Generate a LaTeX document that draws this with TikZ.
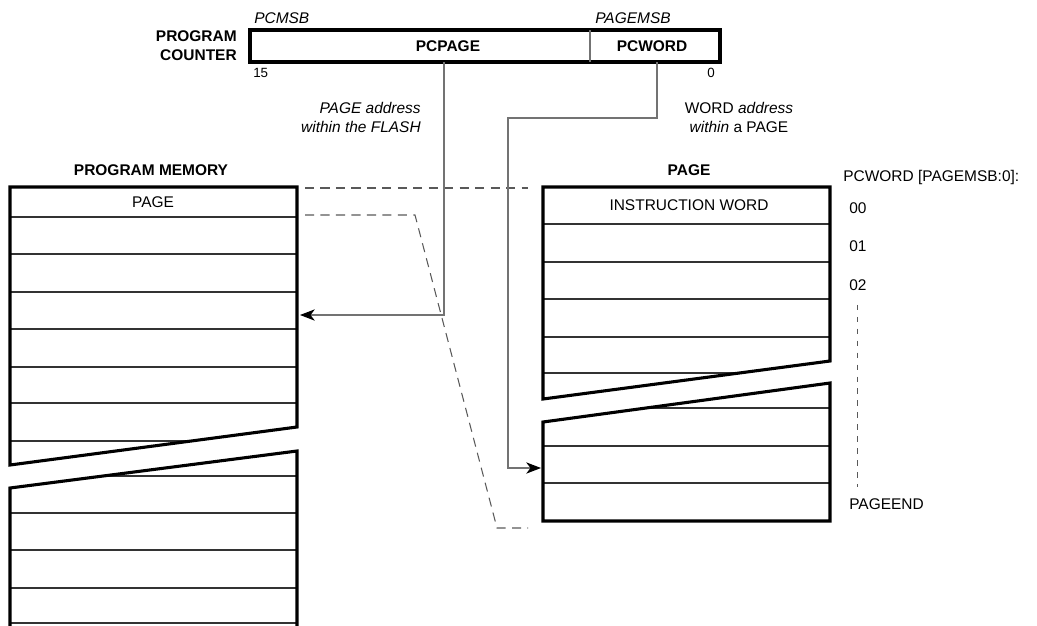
\documentclass[tikz,border=0pt]{standalone}
\usepackage{fontspec}
\setmainfont{Liberation Sans}
\usetikzlibrary{positioning,arrows.meta}

\begin{document}
\begin{tikzpicture}[
  x=0.025cm, y=-0.025cm,
  >={Stealth[length=10.5pt,width=8pt,inset=3pt,color=black]},
  txt/.style={inner sep=0pt,font=\fontsize{11}{13.5}\selectfont},
  head/.style={inner sep=0pt,font=\fontsize{11}{13.5}\selectfont\bfseries},
  note/.style={inner sep=0pt,font=\fontsize{11}{13.5}\selectfont\itshape},
  bitno/.style={inner sep=0pt,font=\fontsize{9.5}{11}\selectfont},
  border/.style={draw=black,line width=2.2pt,line join=miter},
  row/.style={draw=black!80,line width=1pt},
  wire/.style={draw=black!55,line width=0.75pt},
  guide/.style={draw=black!65,line width=0.75pt,dash pattern=on 6.5pt off 4.5pt}
]
\useasboundingbox (0,0) rectangle (1037,625);

% program counter
\draw[border] (250,30) rectangle (720,62);
\draw[wire] (590,30) -- (590,62);
\node[head,align=right,anchor=east] (pclbl) at (237,46) {PROGRAM\\COUNTER};
\node[head] (pcpagelbl) at (448,46) {PCPAGE};
\node[head] (pcwordlbl) at (652,46) {PCWORD};
\node[note,anchor=west] (pcmsb) at (254,18) {PCMSB};
\node[note,anchor=west] (pagemsb) at (595,18) {PAGEMSB};
\node[bitno,anchor=west] (bit15) at (253,73) {15};
\node[bitno,anchor=west] (bit0) at (707,73) {0};
\coordinate (pcpage) at (444,62);
\coordinate (pcword) at (657,62);

\node[note,align=right,anchor=east] (pagenote) at (421,117) {PAGE address\\within the FLASH};
\node[txt,align=center] (wordnote) at (739,117) {WORD \textit{address}\\\textit{within} a PAGE};

% program memory
\node[head] (memlbl) at (151,170) {PROGRAM MEMORY};
\begin{scope}
  \clip (10,187) -- (297,187) -- (297,427) -- (10,465) -- cycle;
  \foreach \y in {217,254,292,329,367,403,441}
    \draw[row] (10,\y) -- (297,\y);
\end{scope}
\draw[border] (297,427) -- (297,187) -- (10,187) -- (10,465) -- cycle;
\begin{scope}
  \clip (10,488) -- (297,451) -- (297,630) -- (10,630) -- cycle;
  \foreach \y in {476,513,550,588,623}
    \draw[row] (10,\y) -- (297,\y);
\end{scope}
\draw[border] (10,630) -- (10,488) -- (297,451) -- (297,630);
\node[txt] (pagerowlbl) at (153,202) {PAGE};
\coordinate (memrow) at (300,315);

% page
\node[head] (pagelbl) at (689,170) {PAGE};
\begin{scope}
  \clip (543,187) -- (830,187) -- (830,361) -- (543,399) -- cycle;
  \foreach \y in {224,262,299,337,373}
    \draw[row] (543,\y) -- (830,\y);
\end{scope}
\draw[border] (830,361) -- (830,187) -- (543,187) -- (543,399) -- cycle;
\begin{scope}
  \clip (543,422) -- (830,383) -- (830,521) -- (543,521) -- cycle;
  \foreach \y in {408,446,483}
    \draw[row] (543,\y) -- (830,\y);
\end{scope}
\draw[border] (543,521) -- (543,422) -- (830,383) -- (830,521) -- cycle;
\node[txt] (instr) at (689,205) {INSTRUCTION WORD};
\coordinate (pagerow) at (541,468);

% word numbers
\node[txt,anchor=west] (wordhdr) at (843,177) {PCWORD [PAGEMSB:0]:};
\node[txt,anchor=west] (w00) at (849,208) {00};
\node[txt,anchor=west] (w01) at (849,246) {01};
\node[txt,anchor=west] (w02) at (849,285) {02};
\node[txt,anchor=west] (wend) at (849,504) {PAGEEND};
\draw[guide,dash pattern=on 4pt off 4.5pt,shorten <=10pt,shorten >=8pt]
  (w02.south) -- (w02.south |- wend.north);

% projection of one page
\coordinate (memtop) at (305,188);
\coordinate (pagetop) at (528,188);
\coordinate (membot) at (305,215);
\coordinate (pagebot) at (528,528);
\draw[guide] (memtop) -- (pagetop);
\draw[guide] (membot) -- (415,215) -- (497,528) -- (pagebot);

% address paths
\draw[wire,->] (pcpage) |- (memrow);
\draw[wire,->] (pcword) |- (508,118) |- (pagerow);
\end{tikzpicture}
\end{document}
